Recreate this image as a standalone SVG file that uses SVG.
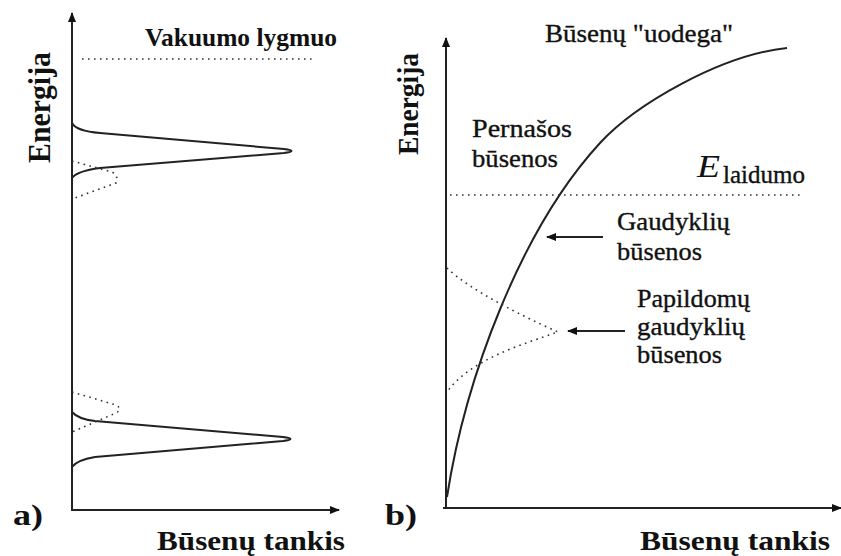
<svg xmlns="http://www.w3.org/2000/svg" width="841" height="556" viewBox="0 0 841 556">
<defs>
<marker id="ah" viewBox="0 0 10 8" refX="9" refY="4" markerWidth="10" markerHeight="8" markerUnits="userSpaceOnUse" orient="auto">
<path d="M0,0 L10,4 L0,8 Z" fill="#111"/>
</marker>
<style>
.ax{stroke:#222;stroke-width:2;fill:none}
.cv{stroke:#222;stroke-width:2;fill:none;stroke-linejoin:round}
.dt{stroke:#333;stroke-width:1.6;fill:none;stroke-dasharray:1.6 4.4}
.lbl{font-family:"Liberation Serif","Times New Roman",serif;fill:#111}
.b{font-weight:bold}
.m{stroke:#111;stroke-width:0.35}
</style>
</defs>
<rect width="841" height="556" fill="#fff"/>

<g id="panel-a">
<g id="axes-a">
<line class="ax" x1="72" y1="511" x2="72" y2="13" marker-end="url(#ah)"/>
<line class="ax" x1="71" y1="510" x2="339" y2="510" marker-end="url(#ah)"/>
</g>
<g id="vacuum-level">
<line class="dt" x1="82" y1="59" x2="314" y2="59"/>
<text class="lbl b" x="145" y="46" font-size="25" textLength="192" lengthAdjust="spacingAndGlyphs">Vakuumo lygmuo</text>
</g>
<g id="peaks-a">
<path class="cv" d="M72,123 Q76,131 100,133 L284,149 Q299,151 284,153 L100,168 Q77,171 72,178"/>
<path class="dt" d="M72,161 L112,172 Q119,176 116,183 L72,199"/>
<path class="cv" d="M72,412 Q78,419 95,421 L283,437 Q298,439 283,441 L95,457 Q77,460 72,467"/>
<path class="dt" d="M72,392 L116,405 Q123,409 116,413 L72,432"/>
</g>
<text class="lbl b" transform="translate(50,163) rotate(-90)" font-size="31" textLength="111" lengthAdjust="spacingAndGlyphs">Energija</text>
<text class="lbl b" x="13" y="525" font-size="30" textLength="30" lengthAdjust="spacingAndGlyphs">a)</text>
<text class="lbl b" x="157" y="550" font-size="27" textLength="188" lengthAdjust="spacingAndGlyphs">Būsenų tankis</text>
</g>

<g id="panel-b">
<g id="axes-b">
<line class="ax" x1="446" y1="509" x2="446" y2="38" marker-end="url(#ah)"/>
<line class="ax" x1="443" y1="508" x2="841" y2="508" marker-end="url(#ah)"/>
</g>
<g id="tail-curve">
<path class="cv" stroke-width="1.7" d="M447,497 C465,380 520,230 600,143 C635,105 720,55 787,48"/>
</g>
<g id="conduction-level">
<line class="dt" x1="450" y1="195" x2="800" y2="195"/>
<text class="lbl" x="697" y="177" font-size="32" font-style="italic" textLength="23" lengthAdjust="spacingAndGlyphs">E</text>
<text class="lbl m" x="723" y="183" font-size="25" textLength="82" lengthAdjust="spacingAndGlyphs">laidumo</text>
</g>
<g id="extra-traps">
<path class="dt" d="M447,268 C470,290 520,315 558,332 C520,345 470,360 447,392"/>
</g>
<g id="connectors">
<line class="ax" x1="603" y1="237" x2="547" y2="237" marker-end="url(#ah)"/>
<line class="ax" x1="625" y1="331" x2="568" y2="331" marker-end="url(#ah)"/>
</g>
<text class="lbl b" transform="translate(418,155) rotate(-90)" font-size="29" textLength="102" lengthAdjust="spacingAndGlyphs">Energija</text>
<text class="lbl b" x="385" y="525" font-size="30" textLength="32" lengthAdjust="spacingAndGlyphs">b)</text>
<text class="lbl b" x="640" y="550" font-size="27" textLength="190" lengthAdjust="spacingAndGlyphs">Būsenų tankis</text>
<text class="lbl m" x="545" y="42" font-size="25" textLength="188" lengthAdjust="spacingAndGlyphs">Būsenų "uodega"</text>
<g id="label-pernasos">
<text class="lbl m" x="472" y="137" font-size="25" textLength="100" lengthAdjust="spacingAndGlyphs">Pernašos</text>
<text class="lbl m" x="472" y="167" font-size="25" textLength="86" lengthAdjust="spacingAndGlyphs">būsenos</text>
</g>
<g id="label-gaudykliu">
<text class="lbl m" x="617" y="230" font-size="25" textLength="113" lengthAdjust="spacingAndGlyphs">Gaudyklių</text>
<text class="lbl m" x="617" y="260" font-size="25" textLength="85" lengthAdjust="spacingAndGlyphs">būsenos</text>
</g>
<g id="label-papildomu">
<text class="lbl m" x="637" y="307" font-size="25" textLength="113" lengthAdjust="spacingAndGlyphs">Papildomų</text>
<text class="lbl m" x="637" y="335" font-size="25" textLength="108" lengthAdjust="spacingAndGlyphs">gaudyklių</text>
<text class="lbl m" x="637" y="363" font-size="25" textLength="85" lengthAdjust="spacingAndGlyphs">būsenos</text>
</g>
</g>
</svg>
